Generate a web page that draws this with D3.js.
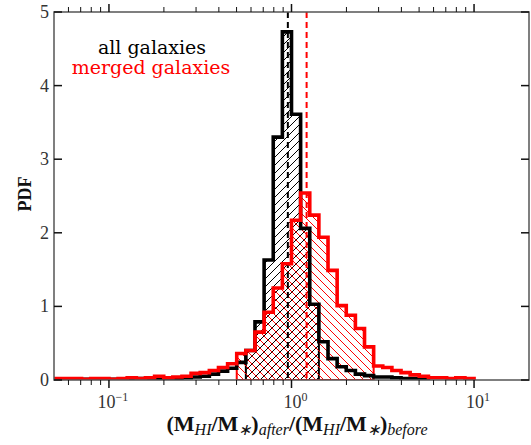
<!DOCTYPE html>
<html>
<head>
<meta charset="utf-8">
<script src="https://cdn.jsdelivr.net/npm/d3@7/dist/d3.min.js"></script>
<style>
  body { margin: 0; background: #fff; }
  svg { display: block; }
</style>
</head>
<body>
<div id="chart"></div>
<script>
// bin edges, log10 of (M_HI/M_*)_after / (M_HI/M_*)_before, 0.05 dex wide
var binEdges = [-1.30, -1.25, -1.20, -1.15, -1.10, -1.05, -1.00, -0.95, -0.90, -0.85,
                -0.80, -0.75, -0.70, -0.65, -0.60, -0.55, -0.50, -0.45, -0.40, -0.35,
                -0.30, -0.25, -0.20, -0.15, -0.10, -0.05, 0.00, 0.05, 0.10, 0.15,
                0.20, 0.25, 0.30, 0.35, 0.40, 0.45, 0.50, 0.55, 0.60, 0.65,
                0.70, 0.75, 0.80, 0.85, 0.90, 0.95, 1.00];

// PDF per bin, all galaxies (last bin ends at 0.75)
var pdfAll = [0.01, 0.01, 0.01, 0.01, 0.01, 0.01, 0.01, 0.01, 0.01, 0.02,
              0.01, 0.02, 0.02, 0.02, 0.03, 0.04, 0.05, 0.08, 0.12, 0.16,
              0.24, 0.40, 0.79, 1.63, 3.30, 4.73, 3.61, 2.06, 1.03, 0.52,
              0.29, 0.18, 0.13, 0.08, 0.06, 0.04, 0.04, 0.03, 0.02, 0.02,
              0.02];

// PDF per bin, merged galaxies
var pdfMerged = [0.02, 0.02, 0.02, 0.01, 0.02, 0.02, 0.01, 0.02, 0.03, 0.02,
                 0.03, 0.05, 0.03, 0.04, 0.05, 0.09, 0.10, 0.13, 0.17, 0.22,
                 0.36, 0.40, 0.65, 0.92, 1.25, 1.58, 2.17, 2.54, 2.24, 1.94,
                 1.49, 1.01, 0.88, 0.70, 0.45, 0.19, 0.17, 0.13, 0.10, 0.07,
                 0.05, 0.03, 0.03, 0.02, 0.03, 0.02];

// hatched ranges (log10) and dashed markers (ratio)
var hatchAll = [-0.25, 0.15];
var hatchMerged = [-0.30, 0.45];
var markAll = 0.955;
var markMerged = 1.21;

var yTicks = [0, 1, 2, 3, 4, 5];
var xMajor = [0.1, 1, 10];
var xMinor = [0.06, 0.07, 0.08, 0.09, 0.2, 0.3, 0.4, 0.5, 0.6, 0.7, 0.8, 0.9,
              2, 3, 4, 5, 6, 7, 8, 9];
var xExp = ["\u22121", "0", "1"];

var width = 531, height = 445;
var padL = 54, padR = 529, padT = 12, padB = 380;

var svg = d3.select("#chart").append("svg")
  .attr("width", width)
  .attr("height", height);

var x = d3.scaleLog().domain([0.05, 20]).range([padL, padR]);
var y = d3.scaleLinear().domain([0, 5]).range([padB, padT]);

var defs = svg.append("defs");
defs.append("clipPath").attr("id", "plotclip")
  .append("rect").attr("x", padL).attr("y", padT)
  .attr("width", padR - padL).attr("height", padB - padT);

// hatch patterns
var pA = defs.append("pattern").attr("id", "hatchAll")
  .attr("patternUnits", "userSpaceOnUse").attr("width", 8).attr("height", 8);
pA.append("path").attr("d", "M0,8 L8,0 M-2,2 L2,-2 M6,10 L10,6")
  .attr("stroke", "#000").attr("stroke-width", 1);
var pM = defs.append("pattern").attr("id", "hatchMerged")
  .attr("patternUnits", "userSpaceOnUse").attr("width", 8).attr("height", 8);
pM.append("path").attr("d", "M0,0 L8,8 M-2,6 L2,10 M6,-2 L10,2")
  .attr("stroke", "#f00").attr("stroke-width", 1);

var line = d3.line()
  .x(function(d) { return x(Math.pow(10, d[0])); })
  .y(function(d) { return y(d[1]); });

// step outline of a histogram, closed down to zero at both ends
function stepPoints(vals, lo, hi) {
  var pts = [];
  for (var i = 0; i < vals.length; i++) {
    var a = binEdges[i], b = binEdges[i + 1];
    if (lo !== undefined && (a < lo - 1e-6 || b > hi + 1e-6)) continue;
    if (pts.length === 0) pts.push([a, 0]);
    pts.push([a, vals[i]]);
    pts.push([b, vals[i]]);
  }
  pts.push([pts[pts.length - 1][0], 0]);
  return pts;
}

var plot = svg.append("g").attr("clip-path", "url(#plotclip)");

// hatched areas
plot.append("path")
  .attr("d", line(stepPoints(pdfAll, hatchAll[0], hatchAll[1])) + "Z")
  .attr("fill", "url(#hatchAll)")
  .attr("stroke", "#000").attr("stroke-width", 2);
plot.append("path")
  .attr("d", line(stepPoints(pdfMerged, hatchMerged[0], hatchMerged[1])) + "Z")
  .attr("fill", "url(#hatchMerged)")
  .attr("stroke", "#f00").attr("stroke-width", 2);

// dashed markers
plot.append("line")
  .attr("x1", x(markAll)).attr("x2", x(markAll))
  .attr("y1", padT).attr("y2", padB)
  .attr("stroke", "#000").attr("stroke-width", 2)
  .attr("stroke-dasharray", "6,4");
plot.append("line")
  .attr("x1", x(markMerged)).attr("x2", x(markMerged))
  .attr("y1", padT).attr("y2", padB)
  .attr("stroke", "#f00").attr("stroke-width", 2)
  .attr("stroke-dasharray", "6,4");

// histogram outlines
plot.append("path")
  .attr("d", line(stepPoints(pdfAll)))
  .attr("fill", "none")
  .attr("stroke", "#000").attr("stroke-width", 3.6);
plot.append("path")
  .attr("d", line(stepPoints(pdfMerged)))
  .attr("fill", "none")
  .attr("stroke", "#f00").attr("stroke-width", 3.6);

// frame
svg.append("rect")
  .attr("x", padL).attr("y", padT)
  .attr("width", padR - padL).attr("height", padB - padT)
  .attr("fill", "none").attr("stroke", "#555").attr("stroke-width", 1.5);

// y ticks (inward, both sides)
var gy = svg.append("g");
yTicks.forEach(function(t) {
  gy.append("line").attr("x1", padL).attr("x2", padL + 8)
    .attr("y1", y(t)).attr("y2", y(t)).attr("stroke", "#111").attr("stroke-width", 1.5);
  gy.append("line").attr("x1", padR - 8).attr("x2", padR)
    .attr("y1", y(t)).attr("y2", y(t)).attr("stroke", "#111").attr("stroke-width", 1.5);
  gy.append("text").attr("x", padL - 5).attr("y", y(t) + 6)
    .attr("text-anchor", "end")
    .style("font-family", "Liberation Serif").style("font-size", "18px")
    .attr("fill", "#333").text(t);
});

// x ticks (outward, bottom and top)
var gx = svg.append("g");
xMajor.forEach(function(t, i) {
  gx.append("line").attr("x1", x(t)).attr("x2", x(t))
    .attr("y1", padB).attr("y2", padB + 8).attr("stroke", "#111").attr("stroke-width", 1.5);
  gx.append("line").attr("x1", x(t)).attr("x2", x(t))
    .attr("y1", padT).attr("y2", padT - 8).attr("stroke", "#111").attr("stroke-width", 1.5);
  var lab = gx.append("text").attr("x", x(t) + 4).attr("y", 408)
    .attr("text-anchor", "middle")
    .style("font-family", "Liberation Serif").style("font-size", "18px")
    .attr("fill", "#333");
  lab.append("tspan").text("10");
  lab.append("tspan").attr("dy", -7).style("font-size", "12px").text(xExp[i]);
});
xMinor.forEach(function(t) {
  gx.append("line").attr("x1", x(t)).attr("x2", x(t))
    .attr("y1", padB).attr("y2", padB + 5).attr("stroke", "#111").attr("stroke-width", 1);
  gx.append("line").attr("x1", x(t)).attr("x2", x(t))
    .attr("y1", padT).attr("y2", padT - 5).attr("stroke", "#111").attr("stroke-width", 1);
});

// axis titles
svg.append("text")
  .attr("transform", "translate(31," + 194 + ") rotate(-90)")
  .attr("text-anchor", "middle")
  .style("font-family", "Liberation Serif").style("font-size", "18px")
  .style("font-weight", "bold").attr("fill", "#111")
  .text("PDF");

var xt = svg.append("text")
  .attr("x", 297).attr("y", 431)
  .attr("text-anchor", "middle")
  .style("font-family", "Liberation Serif").style("font-size", "22px")
  .attr("fill", "#111");
var parts = [
  ["(M", "b", 0], ["HI", "s", 4], ["/M", "b", -4], ["\u2217", "s", 4], [")", "b", -4],
  ["after", "s", 4], ["/(M", "b", -4], ["HI", "s", 4], ["/M", "b", -4], ["\u2217", "s", 4],
  [")", "b", -4], ["before", "s", 4]
];
parts.forEach(function(p) {
  var ts = xt.append("tspan").attr("dy", p[2]).text(p[0]);
  if (p[1] === "b") ts.style("font-weight", "bold");
  else ts.style("font-style", "italic").style("font-size", "16px");
});

// legend text
svg.append("text").attr("x", 152).attr("y", 54)
  .attr("text-anchor", "middle")
  .style("font-family", "DejaVu Serif").style("font-size", "19px")
  .attr("fill", "#000").text("all galaxies");
svg.append("text").attr("x", 151).attr("y", 74)
  .attr("text-anchor", "middle")
  .style("font-family", "DejaVu Serif").style("font-size", "19px")
  .attr("fill", "#f00").text("merged galaxies");
</script>
</body>
</html>
